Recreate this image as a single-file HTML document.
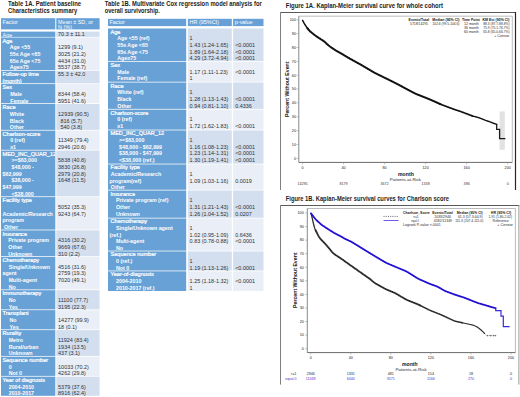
<!DOCTYPE html>
<html><head><meta charset="utf-8"><title>Tables and Kaplan-Meier figures</title>
<style>
html,body{margin:0;padding:0;background:#fff;width:520px;height:397px;overflow:hidden}
svg{display:block}
text{font-family:"Liberation Sans", sans-serif}
</style></head><body>
<svg width="520" height="397" viewBox="0 0 520 397" font-family='"Liberation Sans", sans-serif'>
<rect width="520" height="397" fill="#fff"/>
<text x="8.10" y="5.80" font-size="6.4" fill="#1c1c1c" font-weight="bold" textLength="73.00" lengthAdjust="spacingAndGlyphs">Table 1A. Patient baseline</text>
<text x="8.10" y="13.00" font-size="6.4" fill="#1c1c1c" font-weight="bold" textLength="69.00" lengthAdjust="spacingAndGlyphs">Characteristics summary</text>
<text x="104.80" y="5.80" font-size="6.4" fill="#1c1c1c" font-weight="bold" textLength="157.00" lengthAdjust="spacingAndGlyphs">Table 1B. Multivariate Cox regression model analysis for</text>
<text x="104.80" y="13.00" font-size="6.4" fill="#1c1c1c" font-weight="bold" textLength="55.00" lengthAdjust="spacingAndGlyphs">overall survivorship.</text>
<rect x="1.00" y="18.20" width="54.30" height="11.20" fill="#66a0d6"/>
<rect x="56.30" y="18.20" width="43.30" height="11.20" fill="#66a0d6"/>
<text x="2.50" y="23.70" font-size="5.45" fill="#fff">Factor</text>
<text x="58.10" y="23.60" font-size="5.45" fill="#fff">Mean ± SD, or</text>
<text x="58.10" y="29.30" font-size="5.45" fill="#fff">N (%)</text>
<rect x="1.00" y="31.60" width="54.30" height="5.30" fill="#68a1d5"/>
<rect x="56.30" y="31.60" width="43.30" height="5.30" fill="#d3dfef"/>
<clipPath id="cA0"><rect x="1" y="31.6" width="54.3" height="5.3"/></clipPath>
<text x="2.50" y="36.50" font-size="5.45" fill="#fff" clip-path="url(#cA0)">Age</text>
<text x="58.10" y="35.90" font-size="5.45" fill="#303030">70.3 ± 11.1</text>
<rect x="1.00" y="37.50" width="54.30" height="32.50" fill="#68a1d5"/>
<rect x="56.30" y="37.50" width="43.30" height="32.50" fill="#eaeff7"/>
<clipPath id="cA1"><rect x="1.0" y="37.50" width="54.30" height="32.50"/></clipPath>
<text x="2.50" y="42.70" font-size="5.58" fill="#fff" clip-path="url(#cA1)" stroke="#fff" stroke-width="0.22">Age</text>
<text x="9.80" y="49.35" font-size="5.3" fill="#fff" font-weight="bold" clip-path="url(#cA1)">Age &lt;55</text>
<text x="58.10" y="49.35" font-size="5.45" fill="#303030">1299 (9.1)</text>
<text x="9.80" y="56.00" font-size="5.3" fill="#fff" font-weight="bold" clip-path="url(#cA1)">55≤ Age &lt;65</text>
<text x="58.10" y="56.00" font-size="5.45" fill="#303030">3025 (21.2)</text>
<text x="9.80" y="62.65" font-size="5.3" fill="#fff" font-weight="bold" clip-path="url(#cA1)">65≤ Age &lt;75</text>
<text x="58.10" y="62.65" font-size="5.45" fill="#303030">4434 (31.0)</text>
<text x="9.80" y="69.30" font-size="5.3" fill="#fff" font-weight="bold" clip-path="url(#cA1)">Age≥75</text>
<text x="58.10" y="69.30" font-size="5.45" fill="#303030">5537 (38.7)</text>
<rect x="1.00" y="70.75" width="54.30" height="12.55" fill="#68a1d5"/>
<rect x="56.30" y="70.75" width="43.30" height="12.55" fill="#d3dfef"/>
<clipPath id="cA2"><rect x="1.0" y="70.75" width="54.30" height="12.55"/></clipPath>
<text x="2.50" y="75.95" font-size="5.58" fill="#fff" clip-path="url(#cA2)" stroke="#fff" stroke-width="0.22">Follow-up time</text>
<text x="58.10" y="75.95" font-size="5.45" fill="#303030">55.3 ± 42.0</text>
<text x="2.50" y="82.60" font-size="5.58" fill="#fff" clip-path="url(#cA2)" stroke="#fff" stroke-width="0.22">(month)</text>
<rect x="1.00" y="84.05" width="54.30" height="19.20" fill="#68a1d5"/>
<rect x="56.30" y="84.05" width="43.30" height="19.20" fill="#eaeff7"/>
<clipPath id="cA3"><rect x="1.0" y="84.05" width="54.30" height="19.20"/></clipPath>
<text x="2.50" y="89.25" font-size="5.58" fill="#fff" clip-path="url(#cA3)" stroke="#fff" stroke-width="0.22">Sex</text>
<text x="10.20" y="95.90" font-size="5.3" fill="#fff" font-weight="bold" clip-path="url(#cA3)">Male</text>
<text x="58.10" y="95.90" font-size="5.45" fill="#303030">8344 (58.4)</text>
<text x="10.20" y="102.55" font-size="5.3" fill="#fff" font-weight="bold" clip-path="url(#cA3)">Female</text>
<text x="58.10" y="102.55" font-size="5.45" fill="#303030">5951 (41.6)</text>
<rect x="1.00" y="104.00" width="54.30" height="25.85" fill="#68a1d5"/>
<rect x="56.30" y="104.00" width="43.30" height="25.85" fill="#d3dfef"/>
<clipPath id="cA4"><rect x="1.0" y="104.00" width="54.30" height="25.85"/></clipPath>
<text x="2.50" y="109.20" font-size="5.58" fill="#fff" clip-path="url(#cA4)" stroke="#fff" stroke-width="0.22">Race</text>
<text x="9.80" y="115.85" font-size="5.3" fill="#fff" font-weight="bold" clip-path="url(#cA4)">White</text>
<text x="58.10" y="115.85" font-size="5.45" fill="#303030">12939 (90.5)</text>
<text x="9.80" y="122.50" font-size="5.3" fill="#fff" font-weight="bold" clip-path="url(#cA4)">Black</text>
<text x="60.40" y="122.50" font-size="5.45" fill="#303030">816 (5.7)</text>
<text x="9.80" y="129.15" font-size="5.3" fill="#fff" font-weight="bold" clip-path="url(#cA4)">Other</text>
<text x="60.40" y="129.15" font-size="5.45" fill="#303030">540 (3.8)</text>
<rect x="1.00" y="130.60" width="54.30" height="19.20" fill="#68a1d5"/>
<rect x="56.30" y="130.60" width="43.30" height="19.20" fill="#eaeff7"/>
<clipPath id="cA5"><rect x="1.0" y="130.60" width="54.30" height="19.20"/></clipPath>
<text x="2.50" y="135.80" font-size="5.58" fill="#fff" clip-path="url(#cA5)" stroke="#fff" stroke-width="0.22">Charlson-score</text>
<text x="10.20" y="142.45" font-size="5.3" fill="#fff" font-weight="bold" clip-path="url(#cA5)">0 (ref)</text>
<text x="58.10" y="142.45" font-size="5.45" fill="#303030">11349 (79.4)</text>
<text x="10.20" y="149.10" font-size="5.3" fill="#fff" font-weight="bold" clip-path="url(#cA5)">≥1</text>
<text x="58.10" y="149.10" font-size="5.45" fill="#303030">2946 (20.6)</text>
<rect x="1.00" y="150.55" width="54.30" height="45.80" fill="#68a1d5"/>
<rect x="56.30" y="150.55" width="43.30" height="45.80" fill="#d3dfef"/>
<clipPath id="cA6"><rect x="1.0" y="150.55" width="54.30" height="45.80"/></clipPath>
<text x="2.50" y="155.75" font-size="5.58" fill="#fff" clip-path="url(#cA6)" stroke="#fff" stroke-width="0.22">MED_INC_QUAR_12</text>
<text x="11.50" y="162.40" font-size="5.3" fill="#fff" font-weight="bold" clip-path="url(#cA6)">&gt;=$63,000</text>
<text x="58.10" y="162.40" font-size="5.45" fill="#303030">5838 (40.8)</text>
<text x="11.50" y="169.05" font-size="5.3" fill="#fff" font-weight="bold" clip-path="url(#cA6)">$48,000 -</text>
<text x="58.10" y="169.05" font-size="5.45" fill="#303030">3830 (26.8)</text>
<text x="2.50" y="175.70" font-size="5.3" fill="#fff" font-weight="bold" clip-path="url(#cA6)">$62,999</text>
<text x="58.10" y="175.70" font-size="5.45" fill="#303030">2979 (20.8)</text>
<text x="11.50" y="182.35" font-size="5.3" fill="#fff" font-weight="bold" clip-path="url(#cA6)">$38,000 -</text>
<text x="58.10" y="182.35" font-size="5.45" fill="#303030">1648 (11.5)</text>
<text x="2.50" y="189.00" font-size="5.3" fill="#fff" font-weight="bold" clip-path="url(#cA6)">$47,999</text>
<text x="11.50" y="195.65" font-size="5.3" fill="#fff" font-weight="bold" clip-path="url(#cA6)">&lt;$38,000</text>
<rect x="1.00" y="197.10" width="54.30" height="32.50" fill="#68a1d5"/>
<rect x="56.30" y="197.10" width="43.30" height="32.50" fill="#eaeff7"/>
<clipPath id="cA7"><rect x="1.0" y="197.10" width="54.30" height="32.50"/></clipPath>
<text x="2.50" y="202.30" font-size="5.58" fill="#fff" clip-path="url(#cA7)" stroke="#fff" stroke-width="0.22">Facility type</text>
<text x="58.10" y="208.95" font-size="5.45" fill="#303030">5052 (35.3)</text>
<text x="2.50" y="215.60" font-size="5.3" fill="#fff" font-weight="bold" clip-path="url(#cA7)">Academic/Research</text>
<text x="58.10" y="215.60" font-size="5.45" fill="#303030">9243 (64.7)</text>
<text x="2.50" y="222.25" font-size="5.3" fill="#fff" font-weight="bold" clip-path="url(#cA7)">program</text>
<text x="4.00" y="228.90" font-size="5.3" fill="#fff" font-weight="bold" clip-path="url(#cA7)">Other</text>
<rect x="1.00" y="230.35" width="54.30" height="25.85" fill="#68a1d5"/>
<rect x="56.30" y="230.35" width="43.30" height="25.85" fill="#d3dfef"/>
<clipPath id="cA8"><rect x="1.0" y="230.35" width="54.30" height="25.85"/></clipPath>
<text x="2.50" y="235.55" font-size="5.58" fill="#fff" clip-path="url(#cA8)" stroke="#fff" stroke-width="0.22">Insurance</text>
<text x="8.30" y="242.20" font-size="5.3" fill="#fff" font-weight="bold" clip-path="url(#cA8)">Private program</text>
<text x="58.10" y="242.20" font-size="5.45" fill="#303030">4316 (30.2)</text>
<text x="8.30" y="248.85" font-size="5.3" fill="#fff" font-weight="bold" clip-path="url(#cA8)">Other</text>
<text x="58.10" y="248.85" font-size="5.45" fill="#303030">9669 (67.6)</text>
<text x="8.30" y="255.50" font-size="5.3" fill="#fff" font-weight="bold" clip-path="url(#cA8)">Unknown</text>
<text x="58.10" y="255.50" font-size="5.45" fill="#303030">310 (2.2)</text>
<rect x="1.00" y="256.95" width="54.30" height="32.50" fill="#68a1d5"/>
<rect x="56.30" y="256.95" width="43.30" height="32.50" fill="#eaeff7"/>
<clipPath id="cA9"><rect x="1.0" y="256.95" width="54.30" height="32.50"/></clipPath>
<text x="2.50" y="262.15" font-size="5.58" fill="#fff" clip-path="url(#cA9)" stroke="#fff" stroke-width="0.22">Chemotherapy</text>
<text x="8.70" y="268.80" font-size="5.3" fill="#fff" font-weight="bold" clip-path="url(#cA9)">Single/Unknown</text>
<text x="58.10" y="268.80" font-size="5.45" fill="#303030">4516 (31.6)</text>
<text x="2.50" y="275.45" font-size="5.3" fill="#fff" font-weight="bold" clip-path="url(#cA9)">agent</text>
<text x="58.10" y="275.45" font-size="5.45" fill="#303030">2759 (19.3)</text>
<text x="8.70" y="282.10" font-size="5.3" fill="#fff" font-weight="bold" clip-path="url(#cA9)">Multi-agent</text>
<text x="58.10" y="282.10" font-size="5.45" fill="#303030">7020 (49.1)</text>
<text x="8.70" y="288.75" font-size="5.3" fill="#fff" font-weight="bold" clip-path="url(#cA9)">No</text>
<rect x="1.00" y="290.20" width="54.30" height="19.20" fill="#68a1d5"/>
<rect x="56.30" y="290.20" width="43.30" height="19.20" fill="#d3dfef"/>
<clipPath id="cA10"><rect x="1.0" y="290.20" width="54.30" height="19.20"/></clipPath>
<text x="2.50" y="295.40" font-size="5.58" fill="#fff" clip-path="url(#cA10)" stroke="#fff" stroke-width="0.22">Immunotherapy</text>
<text x="8.70" y="302.05" font-size="5.3" fill="#fff" font-weight="bold" clip-path="url(#cA10)">No</text>
<text x="58.10" y="302.05" font-size="5.45" fill="#303030">11100 (77.7)</text>
<text x="8.70" y="308.70" font-size="5.3" fill="#fff" font-weight="bold" clip-path="url(#cA10)">Yes</text>
<text x="58.10" y="308.70" font-size="5.45" fill="#303030">3195 (22.3)</text>
<rect x="1.00" y="310.15" width="54.30" height="19.20" fill="#68a1d5"/>
<rect x="56.30" y="310.15" width="43.30" height="19.20" fill="#eaeff7"/>
<clipPath id="cA11"><rect x="1.0" y="310.15" width="54.30" height="19.20"/></clipPath>
<text x="2.50" y="315.35" font-size="5.58" fill="#fff" clip-path="url(#cA11)" stroke="#fff" stroke-width="0.22">Transplant</text>
<text x="9.50" y="322.00" font-size="5.3" fill="#fff" font-weight="bold" clip-path="url(#cA11)">No</text>
<text x="58.10" y="322.00" font-size="5.45" fill="#303030">14277 (99.9)</text>
<text x="9.50" y="328.65" font-size="5.3" fill="#fff" font-weight="bold" clip-path="url(#cA11)">Yes</text>
<text x="58.10" y="328.65" font-size="5.45" fill="#303030">18 (0.1)</text>
<rect x="1.00" y="330.10" width="54.30" height="25.85" fill="#68a1d5"/>
<rect x="56.30" y="330.10" width="43.30" height="25.85" fill="#d3dfef"/>
<clipPath id="cA12"><rect x="1.0" y="330.10" width="54.30" height="25.85"/></clipPath>
<text x="2.50" y="335.30" font-size="5.58" fill="#fff" clip-path="url(#cA12)" stroke="#fff" stroke-width="0.22">Rurality</text>
<text x="8.70" y="341.95" font-size="5.3" fill="#fff" font-weight="bold" clip-path="url(#cA12)">Metro</text>
<text x="58.10" y="341.95" font-size="5.45" fill="#303030">11924 (83.4)</text>
<text x="8.70" y="348.60" font-size="5.3" fill="#fff" font-weight="bold" clip-path="url(#cA12)">Rural/urban</text>
<text x="58.10" y="348.60" font-size="5.45" fill="#303030">1934 (13.5)</text>
<text x="8.70" y="355.25" font-size="5.3" fill="#fff" font-weight="bold" clip-path="url(#cA12)">Unknown</text>
<text x="58.10" y="355.25" font-size="5.45" fill="#303030">437 (3.1)</text>
<rect x="1.00" y="356.70" width="54.30" height="19.20" fill="#68a1d5"/>
<rect x="56.30" y="356.70" width="43.30" height="19.20" fill="#eaeff7"/>
<clipPath id="cA13"><rect x="1.0" y="356.70" width="54.30" height="19.20"/></clipPath>
<text x="2.50" y="361.90" font-size="5.58" fill="#fff" clip-path="url(#cA13)" stroke="#fff" stroke-width="0.22">Sequence number</text>
<text x="8.70" y="368.55" font-size="5.3" fill="#fff" font-weight="bold" clip-path="url(#cA13)">0</text>
<text x="58.10" y="368.55" font-size="5.45" fill="#303030">10033 (70.2)</text>
<text x="8.70" y="375.20" font-size="5.3" fill="#fff" font-weight="bold" clip-path="url(#cA13)">Not 0</text>
<text x="58.10" y="375.20" font-size="5.45" fill="#303030">4262 (29.8)</text>
<rect x="1.00" y="376.65" width="54.30" height="19.15" fill="#68a1d5"/>
<rect x="56.30" y="376.65" width="43.30" height="19.15" fill="#d3dfef"/>
<clipPath id="cA14"><rect x="1.0" y="376.65" width="54.30" height="19.15"/></clipPath>
<text x="2.50" y="381.85" font-size="5.58" fill="#fff" clip-path="url(#cA14)" stroke="#fff" stroke-width="0.22">Year of diagnosis</text>
<text x="8.70" y="388.50" font-size="5.3" fill="#fff" font-weight="bold" clip-path="url(#cA14)">2004-2010</text>
<text x="58.10" y="388.50" font-size="5.45" fill="#303030">5379 (37.6)</text>
<text x="8.70" y="395.15" font-size="5.3" fill="#fff" font-weight="bold" clip-path="url(#cA14)">2010-2017</text>
<text x="58.10" y="395.15" font-size="5.45" fill="#303030">8916 (62.4)</text>
<rect x="108.00" y="18.80" width="78.20" height="7.30" fill="#66a0d6"/>
<rect x="187.90" y="18.80" width="43.90" height="7.30" fill="#66a0d6"/>
<rect x="233.10" y="18.80" width="30.40" height="7.30" fill="#66a0d6"/>
<text x="109.50" y="23.70" font-size="5.45" fill="#fff">Factor</text>
<text x="189.60" y="23.70" font-size="5.45" fill="#fff">HR (95%CI)</text>
<text x="234.80" y="23.70" font-size="5.45" fill="#fff">p-value</text>
<rect x="108.00" y="28.50" width="78.20" height="32.65" fill="#68a1d5"/>
<rect x="187.90" y="28.50" width="43.90" height="32.65" fill="#d3dfef"/>
<rect x="233.10" y="28.50" width="30.40" height="32.65" fill="#d3dfef"/>
<clipPath id="cB0"><rect x="108.0" y="28.50" width="78.20" height="32.65"/></clipPath>
<text x="110.50" y="33.50" font-size="5.58" fill="#fff" clip-path="url(#cB0)" stroke="#fff" stroke-width="0.22">Age</text>
<text x="117.30" y="40.18" font-size="5.3" fill="#fff" font-weight="bold" clip-path="url(#cB0)">Age &lt;55 (ref)</text>
<text x="189.60" y="40.18" font-size="5.45" fill="#303030">1</text>
<text x="117.30" y="46.86" font-size="5.3" fill="#fff" font-weight="bold" clip-path="url(#cB0)">55≤ Age &lt;65</text>
<text x="189.60" y="46.86" font-size="5.45" fill="#303030">1.43 (1.24-1.65)</text>
<text x="235.20" y="46.86" font-size="5.45" fill="#303030">&lt;0.0001</text>
<text x="117.30" y="53.54" font-size="5.3" fill="#fff" font-weight="bold" clip-path="url(#cB0)">65≤ Age &lt;75</text>
<text x="189.60" y="53.54" font-size="5.45" fill="#303030">1.89 (1.64-2.18)</text>
<text x="235.20" y="53.54" font-size="5.45" fill="#303030">&lt;0.0001</text>
<text x="117.30" y="60.22" font-size="5.3" fill="#fff" font-weight="bold" clip-path="url(#cB0)">Age≥75</text>
<text x="189.60" y="60.22" font-size="5.45" fill="#303030">4.29 (3.72-4.94)</text>
<text x="235.20" y="60.22" font-size="5.45" fill="#303030">&lt;0.0001</text>
<rect x="108.00" y="61.90" width="78.20" height="19.85" fill="#68a1d5"/>
<rect x="187.90" y="61.90" width="43.90" height="19.85" fill="#eaeff7"/>
<rect x="233.10" y="61.90" width="30.40" height="19.85" fill="#eaeff7"/>
<clipPath id="cB1"><rect x="108.0" y="61.90" width="78.20" height="19.85"/></clipPath>
<text x="110.50" y="66.90" font-size="5.58" fill="#fff" clip-path="url(#cB1)" stroke="#fff" stroke-width="0.22">Sex</text>
<text x="117.30" y="73.58" font-size="5.3" fill="#fff" font-weight="bold" clip-path="url(#cB1)">Male</text>
<text x="189.60" y="73.58" font-size="5.45" fill="#303030">1.17 (1.11-1.23)</text>
<text x="235.20" y="73.58" font-size="5.45" fill="#303030">&lt;0.0001</text>
<text x="117.30" y="80.26" font-size="5.3" fill="#fff" font-weight="bold" clip-path="url(#cB1)">Female (ref)</text>
<text x="189.60" y="80.26" font-size="5.45" fill="#303030">1</text>
<rect x="108.00" y="82.50" width="78.20" height="26.35" fill="#68a1d5"/>
<rect x="187.90" y="82.50" width="43.90" height="26.35" fill="#d3dfef"/>
<rect x="233.10" y="82.50" width="30.40" height="26.35" fill="#d3dfef"/>
<clipPath id="cB2"><rect x="108.0" y="82.50" width="78.20" height="26.35"/></clipPath>
<text x="110.50" y="87.50" font-size="5.58" fill="#fff" clip-path="url(#cB2)" stroke="#fff" stroke-width="0.22">Race</text>
<text x="117.30" y="94.18" font-size="5.3" fill="#fff" font-weight="bold" clip-path="url(#cB2)">White (ref)</text>
<text x="189.60" y="94.18" font-size="5.45" fill="#303030">1</text>
<text x="117.30" y="100.86" font-size="5.3" fill="#fff" font-weight="bold" clip-path="url(#cB2)">Black</text>
<text x="189.60" y="100.86" font-size="5.45" fill="#303030">1.28 (1.13-1.43)</text>
<text x="235.20" y="100.86" font-size="5.45" fill="#303030">&lt;0.0001</text>
<text x="117.30" y="107.54" font-size="5.3" fill="#fff" font-weight="bold" clip-path="url(#cB2)">Other</text>
<text x="189.60" y="107.54" font-size="5.45" fill="#303030">0.94 (0.81-1.10)</text>
<text x="235.20" y="107.54" font-size="5.45" fill="#303030">0.4336</text>
<rect x="108.00" y="109.60" width="78.20" height="20.05" fill="#68a1d5"/>
<rect x="187.90" y="109.60" width="43.90" height="20.05" fill="#eaeff7"/>
<rect x="233.10" y="109.60" width="30.40" height="20.05" fill="#eaeff7"/>
<clipPath id="cB3"><rect x="108.0" y="109.60" width="78.20" height="20.05"/></clipPath>
<text x="110.50" y="114.60" font-size="5.58" fill="#fff" clip-path="url(#cB3)" stroke="#fff" stroke-width="0.22">Charlson-score</text>
<text x="117.30" y="121.28" font-size="5.3" fill="#fff" font-weight="bold" clip-path="url(#cB3)">0 (ref)</text>
<text x="189.60" y="121.28" font-size="5.45" fill="#303030">1</text>
<text x="117.30" y="127.96" font-size="5.3" fill="#fff" font-weight="bold" clip-path="url(#cB3)">≥1</text>
<text x="189.60" y="127.96" font-size="5.45" fill="#303030">1.72 (1.62-1.83)</text>
<text x="235.20" y="127.96" font-size="5.45" fill="#303030">&lt;0.0001</text>
<rect x="108.00" y="130.40" width="78.20" height="33.25" fill="#68a1d5"/>
<rect x="187.90" y="130.40" width="43.90" height="33.25" fill="#d3dfef"/>
<rect x="233.10" y="130.40" width="30.40" height="33.25" fill="#d3dfef"/>
<clipPath id="cB4"><rect x="108.0" y="130.40" width="78.20" height="33.25"/></clipPath>
<text x="110.50" y="135.20" font-size="5.58" fill="#fff" clip-path="url(#cB4)" stroke="#fff" stroke-width="0.22">MED_INC_QUAR_12</text>
<text x="119.00" y="141.88" font-size="5.3" fill="#fff" font-weight="bold" clip-path="url(#cB4)">&gt;=$63,000</text>
<text x="189.60" y="141.88" font-size="5.45" fill="#303030">1</text>
<text x="119.00" y="148.56" font-size="5.3" fill="#fff" font-weight="bold" clip-path="url(#cB4)">$48,000 - $62,999</text>
<text x="189.60" y="148.56" font-size="5.45" fill="#303030">1.16 (1.08-1.23)</text>
<text x="235.20" y="148.56" font-size="5.45" fill="#303030">&lt;0.0001</text>
<text x="119.00" y="155.24" font-size="5.3" fill="#fff" font-weight="bold" clip-path="url(#cB4)">$38,000 - $47,999</text>
<text x="189.60" y="155.24" font-size="5.45" fill="#303030">1.23 (1.14-1.31)</text>
<text x="235.20" y="155.24" font-size="5.45" fill="#303030">&lt;0.0001</text>
<text x="119.00" y="161.92" font-size="5.3" fill="#fff" font-weight="bold" clip-path="url(#cB4)">&lt;$38,000 (ref.)</text>
<text x="189.60" y="161.92" font-size="5.45" fill="#303030">1.30 (1.19-1.41)</text>
<text x="235.20" y="161.92" font-size="5.45" fill="#303030">&lt;0.0001</text>
<rect x="108.00" y="164.40" width="78.20" height="25.35" fill="#68a1d5"/>
<rect x="187.90" y="164.40" width="43.90" height="25.35" fill="#eaeff7"/>
<rect x="233.10" y="164.40" width="30.40" height="25.35" fill="#eaeff7"/>
<clipPath id="cB5"><rect x="108.0" y="164.40" width="78.20" height="25.35"/></clipPath>
<text x="110.50" y="169.20" font-size="5.58" fill="#fff" clip-path="url(#cB5)" stroke="#fff" stroke-width="0.22">Facility type</text>
<text x="110.80" y="175.88" font-size="5.3" fill="#fff" font-weight="bold" clip-path="url(#cB5)">Academic/Research</text>
<text x="189.60" y="175.88" font-size="5.45" fill="#303030">1</text>
<text x="109.50" y="182.56" font-size="5.3" fill="#fff" font-weight="bold" clip-path="url(#cB5)">program(ref)</text>
<text x="189.60" y="182.56" font-size="5.45" fill="#303030">1.09 (1.03-1.16)</text>
<text x="235.20" y="182.56" font-size="5.45" fill="#303030">0.0019</text>
<text x="110.80" y="189.24" font-size="5.3" fill="#fff" font-weight="bold" clip-path="url(#cB5)">Other</text>
<rect x="108.00" y="190.50" width="78.20" height="27.25" fill="#68a1d5"/>
<rect x="187.90" y="190.50" width="43.90" height="27.25" fill="#d3dfef"/>
<rect x="233.10" y="190.50" width="30.40" height="27.25" fill="#d3dfef"/>
<clipPath id="cB6"><rect x="108.0" y="190.50" width="78.20" height="27.25"/></clipPath>
<text x="110.50" y="195.50" font-size="5.58" fill="#fff" clip-path="url(#cB6)" stroke="#fff" stroke-width="0.22">Insurance</text>
<text x="116.00" y="202.18" font-size="5.3" fill="#fff" font-weight="bold" clip-path="url(#cB6)">Private program (ref)</text>
<text x="189.60" y="202.18" font-size="5.45" fill="#303030">1</text>
<text x="116.00" y="208.86" font-size="5.3" fill="#fff" font-weight="bold" clip-path="url(#cB6)">Other</text>
<text x="189.60" y="208.86" font-size="5.45" fill="#303030">1.31 (1.21-1.43)</text>
<text x="235.20" y="208.86" font-size="5.45" fill="#303030">&lt;0.0001</text>
<text x="116.00" y="215.54" font-size="5.3" fill="#fff" font-weight="bold" clip-path="url(#cB6)">Unknown</text>
<text x="189.60" y="215.54" font-size="5.45" fill="#303030">1.26 (1.04-1.52)</text>
<text x="235.20" y="215.54" font-size="5.45" fill="#303030">0.0207</text>
<rect x="108.00" y="218.50" width="78.20" height="32.15" fill="#68a1d5"/>
<rect x="187.90" y="218.50" width="43.90" height="32.15" fill="#eaeff7"/>
<rect x="233.10" y="218.50" width="30.40" height="32.15" fill="#eaeff7"/>
<clipPath id="cB7"><rect x="108.0" y="218.50" width="78.20" height="32.15"/></clipPath>
<text x="110.50" y="223.30" font-size="5.58" fill="#fff" clip-path="url(#cB7)" stroke="#fff" stroke-width="0.22">Chemotherapy</text>
<text x="116.00" y="229.98" font-size="5.3" fill="#fff" font-weight="bold" clip-path="url(#cB7)">Single/Unknown agent</text>
<text x="189.60" y="229.98" font-size="5.45" fill="#303030">1</text>
<text x="109.50" y="236.66" font-size="5.3" fill="#fff" font-weight="bold" clip-path="url(#cB7)">(ref.)</text>
<text x="189.60" y="236.66" font-size="5.45" fill="#303030">1.02 (0.95-1.09)</text>
<text x="235.20" y="236.66" font-size="5.45" fill="#303030">0.6436</text>
<text x="116.00" y="243.34" font-size="5.3" fill="#fff" font-weight="bold" clip-path="url(#cB7)">Multi-agent</text>
<text x="189.60" y="243.34" font-size="5.45" fill="#303030">0.83 (0.78-0.88)</text>
<text x="235.20" y="243.34" font-size="5.45" fill="#303030">&lt;0.0001</text>
<text x="116.00" y="250.02" font-size="5.3" fill="#fff" font-weight="bold" clip-path="url(#cB7)">No</text>
<rect x="108.00" y="251.40" width="78.20" height="19.15" fill="#68a1d5"/>
<rect x="187.90" y="251.40" width="43.90" height="19.15" fill="#d3dfef"/>
<rect x="233.10" y="251.40" width="30.40" height="19.15" fill="#d3dfef"/>
<clipPath id="cB8"><rect x="108.0" y="251.40" width="78.20" height="19.15"/></clipPath>
<text x="110.50" y="256.40" font-size="5.58" fill="#fff" clip-path="url(#cB8)" stroke="#fff" stroke-width="0.22">Sequence number</text>
<text x="116.00" y="263.08" font-size="5.3" fill="#fff" font-weight="bold" clip-path="url(#cB8)">0 (ref.)</text>
<text x="189.60" y="263.08" font-size="5.45" fill="#303030">1</text>
<text x="116.00" y="269.76" font-size="5.3" fill="#fff" font-weight="bold" clip-path="url(#cB8)">Not 0</text>
<text x="189.60" y="269.76" font-size="5.45" fill="#303030">1.19 (1.13-1.26)</text>
<text x="235.20" y="269.76" font-size="5.45" fill="#303030">&lt;0.0001</text>
<rect x="108.00" y="271.30" width="78.20" height="19.70" fill="#68a1d5"/>
<rect x="187.90" y="271.30" width="43.90" height="19.70" fill="#eaeff7"/>
<rect x="233.10" y="271.30" width="30.40" height="19.70" fill="#eaeff7"/>
<clipPath id="cB9"><rect x="108.0" y="271.30" width="78.20" height="19.70"/></clipPath>
<text x="110.50" y="276.30" font-size="5.58" fill="#fff" clip-path="url(#cB9)" stroke="#fff" stroke-width="0.22">Year-of-diagnosis</text>
<text x="116.00" y="282.98" font-size="5.3" fill="#fff" font-weight="bold" clip-path="url(#cB9)">2004-2010</text>
<text x="189.60" y="282.98" font-size="5.45" fill="#303030">1.25 (1.18-1.32)</text>
<text x="235.20" y="282.98" font-size="5.45" fill="#303030">&lt;0.0001</text>
<text x="116.00" y="289.66" font-size="5.3" fill="#fff" font-weight="bold" clip-path="url(#cB9)">2010-2017 (ref.)</text>
<text x="189.60" y="289.66" font-size="5.45" fill="#303030">1</text>
<text x="285.80" y="7.60" font-size="6.4" fill="#1c1c1c" font-weight="bold" textLength="157.20" lengthAdjust="spacingAndGlyphs">Figure 1A. Kaplan-Meier survival curve for whole cohort</text>
<line x1="280.5" y1="12.5" x2="516" y2="12.5" stroke="#5a5a5a" stroke-width="1"/>
<line x1="280.5" y1="12" x2="280.5" y2="190" stroke="#808080" stroke-width="1"/>
<line x1="515.5" y1="12" x2="515.5" y2="190" stroke="#262626" stroke-width="1.2"/>
<line x1="298.8" y1="16.2" x2="512.3" y2="16.2" stroke="#b4b4b4" stroke-width="0.9"/>
<line x1="512.3" y1="16.2" x2="512.3" y2="162.4" stroke="#b4b4b4" stroke-width="0.9"/>
<line x1="298.8" y1="16.2" x2="298.8" y2="162.4" stroke="#7a7a7a" stroke-width="0.9"/>
<line x1="298.8" y1="162.4" x2="512.3" y2="162.4" stroke="#6a6a6a" stroke-width="1"/>
<line x1="296.6" y1="158.30" x2="298.8" y2="158.30" stroke="#888" stroke-width="0.5"/>
<text x="296.00" y="159.65" font-size="3.75" fill="#222" text-anchor="end">0</text>
<line x1="296.6" y1="144.45" x2="298.8" y2="144.45" stroke="#888" stroke-width="0.5"/>
<text x="296.00" y="145.80" font-size="3.75" fill="#222" text-anchor="end">10</text>
<line x1="296.6" y1="130.60" x2="298.8" y2="130.60" stroke="#888" stroke-width="0.5"/>
<text x="296.00" y="131.95" font-size="3.75" fill="#222" text-anchor="end">20</text>
<line x1="296.6" y1="116.75" x2="298.8" y2="116.75" stroke="#888" stroke-width="0.5"/>
<text x="296.00" y="118.10" font-size="3.75" fill="#222" text-anchor="end">30</text>
<line x1="296.6" y1="102.90" x2="298.8" y2="102.90" stroke="#888" stroke-width="0.5"/>
<text x="296.00" y="104.25" font-size="3.75" fill="#222" text-anchor="end">40</text>
<line x1="296.6" y1="89.05" x2="298.8" y2="89.05" stroke="#888" stroke-width="0.5"/>
<text x="296.00" y="90.40" font-size="3.75" fill="#222" text-anchor="end">50</text>
<line x1="296.6" y1="75.20" x2="298.8" y2="75.20" stroke="#888" stroke-width="0.5"/>
<text x="296.00" y="76.55" font-size="3.75" fill="#222" text-anchor="end">60</text>
<line x1="296.6" y1="61.35" x2="298.8" y2="61.35" stroke="#888" stroke-width="0.5"/>
<text x="296.00" y="62.70" font-size="3.75" fill="#222" text-anchor="end">70</text>
<line x1="296.6" y1="47.50" x2="298.8" y2="47.50" stroke="#888" stroke-width="0.5"/>
<text x="296.00" y="48.85" font-size="3.75" fill="#222" text-anchor="end">80</text>
<line x1="296.6" y1="33.65" x2="298.8" y2="33.65" stroke="#888" stroke-width="0.5"/>
<text x="296.00" y="35.00" font-size="3.75" fill="#222" text-anchor="end">90</text>
<line x1="296.6" y1="19.80" x2="298.8" y2="19.80" stroke="#888" stroke-width="0.5"/>
<text x="296.00" y="21.15" font-size="3.75" fill="#222" text-anchor="end">100</text>
<line x1="302.50" y1="162.4" x2="302.50" y2="164.4" stroke="#888" stroke-width="0.5"/>
<text x="302.50" y="168.50" font-size="3.75" fill="#222" text-anchor="middle">0</text>
<line x1="343.54" y1="162.4" x2="343.54" y2="164.4" stroke="#888" stroke-width="0.5"/>
<text x="343.54" y="168.50" font-size="3.75" fill="#222" text-anchor="middle">40</text>
<line x1="384.58" y1="162.4" x2="384.58" y2="164.4" stroke="#888" stroke-width="0.5"/>
<text x="384.58" y="168.50" font-size="3.75" fill="#222" text-anchor="middle">80</text>
<line x1="425.62" y1="162.4" x2="425.62" y2="164.4" stroke="#888" stroke-width="0.5"/>
<text x="425.62" y="168.50" font-size="3.75" fill="#222" text-anchor="middle">120</text>
<line x1="466.66" y1="162.4" x2="466.66" y2="164.4" stroke="#888" stroke-width="0.5"/>
<text x="466.66" y="168.50" font-size="3.75" fill="#222" text-anchor="middle">160</text>
<line x1="507.70" y1="162.4" x2="507.70" y2="164.4" stroke="#888" stroke-width="0.5"/>
<text x="507.70" y="168.50" font-size="3.75" fill="#222" text-anchor="middle">200</text>
<rect x="499.60" y="111.40" width="5.20" height="38.40" fill="#e2e2e2"/>
<path d="M302.60,20.40 L302.79,20.75 L302.98,21.10 L303.17,21.45 L303.37,21.80 L303.56,22.16 L303.75,22.51 L303.95,22.85 L304.14,23.20 L304.34,23.55 L304.54,23.90 L304.75,24.24 L304.95,24.58 L305.16,24.92 L305.37,25.26 L305.58,25.60 L305.80,25.94 L306.02,26.27 L306.24,26.60 L306.47,26.93 L306.70,27.26 L306.93,27.58 L307.17,27.90 L307.41,28.22 L307.66,28.54 L307.90,28.85 L308.16,29.16 L308.41,29.47" fill="none" stroke="#111" stroke-width="1.5" stroke-linejoin="round" stroke-linecap="round"/>
<path d="M307.41,28.22 L307.66,28.54 L307.90,28.85 L308.16,29.16 L308.41,29.47 L308.67,29.77 L308.94,30.07 L309.21,30.36 L309.48,30.65 L309.76,30.93 L310.04,31.21 L310.33,31.49 L310.62,31.76 L310.92,32.03 L311.21,32.30 L311.51,32.56 L311.82,32.83 L312.12,33.09 L312.43,33.34 L312.74,33.59 L313.05,33.84 L313.36,34.09 L313.68,34.33 L314.00,34.58 L314.32,34.82 L314.64,35.06 L314.96,35.29 L315.28,35.53 L315.61,35.76 L315.93,35.99 L316.26,36.22 L316.59,36.45 L316.92,36.68 L317.25,36.90 L317.58,37.12 L317.92,37.34 L318.25,37.56 L318.58,37.78 L318.92,38.00 L319.26,38.22 L319.59,38.43 L319.93,38.65 L320.27,38.86 L320.60,39.08 L320.94,39.29 L321.28,39.51 L321.62,39.72 L321.95,39.94 L322.29,40.15 L322.62,40.37 L322.95,40.60 L323.28,40.83 L323.60,41.06 L323.92,41.30 L324.23,41.55 L324.54,41.80 L324.84,42.06 L325.14,42.32 L325.43,42.59 L325.73,42.86 L326.02,43.13 L326.31,43.41 L326.60,43.68 L326.89,43.95 L327.19,44.23 L327.48,44.49 L327.78,44.76 L328.08,45.02 L328.39,45.28 L328.69,45.53 L329.01,45.78 L329.32,46.02 L329.64,46.26 L329.96,46.50 L330.29,46.73 L330.61,46.97 L330.94,47.20 L331.27,47.43 L331.59,47.66 L331.92,47.88 L332.25,48.11 L332.58,48.34 L332.91,48.57 L333.24,48.80 L333.57,49.02 L333.90,49.24 L334.23,49.47 L334.57,49.68 L334.90,49.90 L335.24,50.11 L335.58,50.32 L335.93,50.52 L336.27,50.73 L336.62,50.93 L336.96,51.12 L337.31,51.32 L337.66,51.52 L338.01,51.71 L338.36,51.91 L338.71,52.10 L339.06,52.29 L339.41,52.49 L339.76,52.68 L340.11,52.88 L340.46,53.07 L340.80,53.27 L341.15,53.47 L341.50,53.67 L341.84,53.87 L342.19,54.07 L342.53,54.28 L342.87,54.48 L343.22,54.69 L343.56,54.90 L343.90,55.10 L344.24,55.31 L344.59,55.52 L344.93,55.73 L345.27,55.94 L345.61,56.14 L345.95,56.35 L346.30,56.56 L346.64,56.76 L346.98,56.97 L347.32,57.17 L347.67,57.38 L348.01,57.58 L348.36,57.78 L348.71,57.98 L349.06,58.17 L349.40,58.37 L349.75,58.57 L350.10,58.76 L350.45,58.96 L350.80,59.15 L351.15,59.34 L351.50,59.54 L351.85,59.73 L352.20,59.93 L352.55,60.12 L352.90,60.31 L353.25,60.51 L353.60,60.70 L353.95,60.89 L354.30,61.09 L354.65,61.28 L355.00,61.47 L355.35,61.66 L355.70,61.86 L356.06,62.05 L356.41,62.24 L356.76,62.43 L357.11,62.62 L357.46,62.81 L357.81,63.01 L358.16,63.20 L358.51,63.39 L358.86,63.58 L359.21,63.77 L359.56,63.97 L359.91,64.16 L360.26,64.36 L360.61,64.55 L360.96,64.75 L361.31,64.95 L361.65,65.15 L362.00,65.35 L362.34,65.55 L362.69,65.76 L363.03,65.96 L363.37,66.17 L363.72,66.37 L364.06,66.58 L364.40,66.78 L364.75,66.99 L365.09,67.19 L365.43,67.40 L365.78,67.61 L366.12,67.81 L366.46,68.02 L366.81,68.22 L367.15,68.43 L367.49,68.63 L367.84,68.83 L368.18,69.04 L368.53,69.24 L368.87,69.44 L369.22,69.65 L369.56,69.85 L369.91,70.05 L370.25,70.25 L370.60,70.46 L370.94,70.66 L371.29,70.86 L371.63,71.06 L371.98,71.26 L372.32,71.46 L372.67,71.66 L373.02,71.86 L373.36,72.06 L373.71,72.26 L374.06,72.45 L374.41,72.65 L374.76,72.83 L375.12,73.02 L375.47,73.21 L375.83,73.39 L376.18,73.57 L376.54,73.75 L376.90,73.93 L377.26,74.10 L377.62,74.28 L377.98,74.46 L378.33,74.63 L378.69,74.81 L379.05,74.99 L379.41,75.16 L379.77,75.34 L380.13,75.52 L380.49,75.69 L380.85,75.87 L381.21,76.05 L381.57,76.22 L381.92,76.40 L382.28,76.58 L382.64,76.75 L383.00,76.93 L383.36,77.10 L383.72,77.28 L384.08,77.46 L384.44,77.63 L384.80,77.81 L385.15,77.99 L385.51,78.16 L385.87,78.34 L386.23,78.52 L386.59,78.69 L386.95,78.87 L387.31,79.05 L387.67,79.23 L388.02,79.40 L388.38,79.58 L388.74,79.76 L389.10,79.94 L389.46,80.11 L389.82,80.29 L390.17,80.47 L390.53,80.65 L390.89,80.83 L391.25,81.00 L391.61,81.18 L391.97,81.36 L392.32,81.54 L392.68,81.71 L393.04,81.89 L393.40,82.07 L393.76,82.25 L394.12,82.42 L394.48,82.60 L394.83,82.78 L395.19,82.96 L395.55,83.14 L395.91,83.31 L396.26,83.49 L396.62,83.67 L396.98,83.86 L397.33,84.04 L397.69,84.22 L398.04,84.41 L398.40,84.59 L398.75,84.78 L399.10,84.97 L399.46,85.16 L399.81,85.35 L400.16,85.54 L400.51,85.73 L400.86,85.92 L401.21,86.12 L401.56,86.31 L401.91,86.50 L402.27,86.69 L402.62,86.88 L402.97,87.07 L403.32,87.26 L403.67,87.46 L404.02,87.65 L404.37,87.84 L404.72,88.03 L405.08,88.22 L405.43,88.41 L405.78,88.60 L406.13,88.79 L406.48,88.98 L406.84,89.17 L407.19,89.36 L407.54,89.55 L407.89,89.74 L408.25,89.92 L408.60,90.11 L408.95,90.30 L409.31,90.48 L409.66,90.67 L410.02,90.86 L410.37,91.05 L410.72,91.23 L411.08,91.42 L411.43,91.61 L411.78,91.79 L412.14,91.98 L412.49,92.17 L412.85,92.35 L413.20,92.54 L413.56,92.72 L413.91,92.90 L414.27,93.08 L414.63,93.25 L414.99,93.43 L415.35,93.59 L415.72,93.76 L416.08,93.92 L416.45,94.07 L416.82,94.23 L417.19,94.38 L417.56,94.53 L417.93,94.68 L418.30,94.83 L418.67,94.97 L419.05,95.12 L419.42,95.27 L419.79,95.42 L420.16,95.56 L420.53,95.71 L420.90,95.86 L421.28,96.01 L421.65,96.15 L422.02,96.30 L422.39,96.45 L422.76,96.59 L423.14,96.74 L423.51,96.89 L423.88,97.04 L424.25,97.18 L424.62,97.33 L425.00,97.48 L425.37,97.62 L425.74,97.77 L426.11,97.92 L426.48,98.07 L426.86,98.21 L427.23,98.36 L427.60,98.51 L427.97,98.66 L428.34,98.81 L428.71,98.96 L429.08,99.11 L429.45,99.27 L429.82,99.42 L430.19,99.58 L430.55,99.74 L430.92,99.90 L431.29,100.06 L431.65,100.22 L432.02,100.38 L432.38,100.55 L432.75,100.71 L433.11,100.87 L433.48,101.04 L433.84,101.20 L434.21,101.37 L434.57,101.53 L434.94,101.69 L435.30,101.86 L435.67,102.02 L436.03,102.18 L436.40,102.35 L436.76,102.51 L437.13,102.67 L437.49,102.84 L437.86,103.00 L438.22,103.16 L438.59,103.33 L438.95,103.49 L439.32,103.65 L439.68,103.81 L440.05,103.97 L440.42,104.13" fill="none" stroke="#111" stroke-width="2.0" stroke-linejoin="round" stroke-linecap="round"/>
<path d="M439.68,103.81 L440.05,103.97 L440.42,104.13 L440.79,104.29 L441.16,104.44 L441.53,104.59 L441.90,104.74 L442.27,104.89 L442.64,105.03 L443.01,105.18 L443.39,105.32 L443.76,105.46 L444.14,105.61 L444.51,105.75 L444.88,105.89 L445.26,106.03 L445.63,106.17 L446.01,106.31 L446.38,106.45 L446.75,106.59 L447.13,106.73 L447.50,106.88 L447.88,107.02 L448.25,107.16 L448.63,107.30 L449.00,107.44 L449.38,107.58 L449.75,107.72 L450.12,107.86 L450.50,108.00 L450.87,108.14 L451.25,108.29 L451.62,108.43 L452.00,108.57 L452.37,108.71 L452.74,108.85 L453.12,108.99 L453.49,109.13 L453.87,109.26 L454.25,109.40 L454.62,109.53 L455.00,109.67 L455.38,109.80 L455.76,109.93 L456.13,110.06 L456.51,110.18 L456.89,110.31 L457.27,110.43 L457.65,110.56 L458.03,110.68 L458.42,110.80 L458.80,110.93 L459.18,111.05 L459.56,111.18 L459.94,111.30 L460.32,111.43 L460.69,111.56 L461.07,111.68 L461.45,111.82 L461.83,111.95 L462.20,112.08 L462.58,112.22 L462.95,112.36 L463.33,112.50 L463.70,112.64 L464.08,112.78 L464.45,112.92 L464.83,113.06 L465.20,113.20 L465.57,113.35 L465.95,113.49 L466.32,113.63 L466.70,113.77 L467.07,113.91 L467.44,114.05 L467.82,114.20 L468.19,114.34 L468.57,114.48 L468.94,114.62 L469.31,114.76 L469.69,114.91 L470.06,115.05 L470.44,115.19 L470.81,115.33 L471.19,115.47 L471.56,115.60 L471.94,115.73 L472.32,115.86" fill="none" stroke="#111" stroke-width="1.7" stroke-linejoin="round" stroke-linecap="round"/>
<path d="M471.56,115.60 L471.94,115.73 L472.32,115.86 L472.70,115.99 L473.08,116.11 L473.46,116.23 L473.84,116.34 L474.23,116.45 L474.61,116.55 L475.00,116.66 L475.39,116.76 L475.77,116.86 L476.16,116.95 L476.55,117.05 L476.93,117.15 L477.32,117.26 L477.70,117.37 L478.09,117.48 L478.47,117.59 L478.85,117.72 L479.23,117.85 L479.60,117.98 L479.98,118.12 L480.35,118.26 L480.72,118.41 L481.09,118.55 L481.46,118.70 L481.83,118.86 L482.20,119.01 L482.57,119.16 L482.94,119.31 L483.31,119.46 L483.69,119.61 L484.06,119.75 L484.43,119.89 L484.81,120.04 L485.18,120.18 L485.56,120.31 L485.93,120.45 L486.31,120.58 L486.69,120.72 L487.06,120.85 L487.44,120.98 L487.82,121.11 L488.20,121.24 L488.57,121.38 L488.95,121.51 L489.33,121.65 L489.70,121.79 L490.07,121.93 L490.45,122.07 L490.82,122.22 L491.19,122.37 L491.56,122.52 L491.93,122.67 L492.30,122.82 L492.67,122.97 L493.04,123.12 L493.41,123.26 L493.79,123.40 L494.16,123.53 L494.54,123.66 L494.92,123.78 L495.30,123.89 L495.69,124.01 L496.07,124.12 L496.45,124.23 L496.70,124.30" fill="none" stroke="#111" stroke-width="1.4" stroke-linejoin="round" stroke-linecap="round"/>
<path d="M496.7,124.3 L496.7,129.4 L499.6,129.4 L499.6,138.7 L505.4,138.7" fill="none" stroke="#1a1a1a" stroke-width="1.3"/>
<text x="408.60" y="21.00" font-size="3.45" fill="#151515" font-weight="bold" textLength="20.60" lengthAdjust="spacingAndGlyphs">Events/Total</text>
<text x="410.00" y="24.90" font-size="3.3465000000000003" fill="#2a2a2a" textLength="18.00" lengthAdjust="spacingAndGlyphs">5718/14295</text>
<text x="432.30" y="21.00" font-size="3.45" fill="#151515" font-weight="bold" textLength="27.10" lengthAdjust="spacingAndGlyphs">Median (95% CI)</text>
<text x="432.50" y="24.90" font-size="3.3465000000000003" fill="#2a2a2a" textLength="26.90" lengthAdjust="spacingAndGlyphs">102.6 (99.5-104.6)</text>
<text x="461.90" y="21.00" font-size="3.45" fill="#151515" font-weight="bold" textLength="17.90" lengthAdjust="spacingAndGlyphs">Time Point</text>
<text x="482.50" y="21.00" font-size="3.45" fill="#151515" font-weight="bold" textLength="27.00" lengthAdjust="spacingAndGlyphs">KM Est (95% CI)</text>
<text x="464.00" y="24.90" font-size="3.3465000000000003" fill="#2a2a2a" textLength="14.70" lengthAdjust="spacingAndGlyphs">12 month</text>
<text x="483.30" y="24.90" font-size="3.3465000000000003" fill="#2a2a2a" textLength="26.20" lengthAdjust="spacingAndGlyphs">88.3 (87.7-88.8%)</text>
<text x="464.00" y="29.05" font-size="3.3465000000000003" fill="#2a2a2a" textLength="14.70" lengthAdjust="spacingAndGlyphs">36 month</text>
<text x="483.30" y="29.05" font-size="3.3465000000000003" fill="#2a2a2a" textLength="26.20" lengthAdjust="spacingAndGlyphs">75.9 (75.1-76.7%)</text>
<text x="464.00" y="33.20" font-size="3.3465000000000003" fill="#2a2a2a" textLength="14.70" lengthAdjust="spacingAndGlyphs">60 month</text>
<text x="483.30" y="33.20" font-size="3.3465000000000003" fill="#2a2a2a" textLength="26.20" lengthAdjust="spacingAndGlyphs">65.8 (65.0-66.7%)</text>
<text x="494.20" y="37.30" font-size="3.3465000000000003" fill="#2a2a2a" textLength="15.00" lengthAdjust="spacingAndGlyphs">+ Censor</text>
<text transform="translate(288.8,89.3) rotate(-90)" font-size="4.6" font-weight="bold" text-anchor="middle" fill="#111" textLength="55.6" lengthAdjust="spacingAndGlyphs">Percent Without Event</text>
<text x="398.00" y="176.00" font-size="4.6" fill="#111" font-weight="bold" textLength="15.80" lengthAdjust="spacingAndGlyphs">month</text>
<text x="389.80" y="180.60" font-size="4.1" fill="#2a2a2a" textLength="31.20" lengthAdjust="spacingAndGlyphs">Patients-at-Risk</text>
<text x="302.50" y="184.60" font-size="3.675" fill="#3a3a3a" text-anchor="middle">14295</text>
<text x="343.54" y="184.60" font-size="3.675" fill="#3a3a3a" text-anchor="middle">8179</text>
<text x="384.58" y="184.60" font-size="3.675" fill="#3a3a3a" text-anchor="middle">3672</text>
<text x="425.62" y="184.60" font-size="3.675" fill="#3a3a3a" text-anchor="middle">1338</text>
<text x="466.66" y="184.60" font-size="3.675" fill="#3a3a3a" text-anchor="middle">386</text>
<text x="507.70" y="184.60" font-size="3.675" fill="#3a3a3a" text-anchor="middle">0</text>
<text x="285.80" y="201.10" font-size="6.4" fill="#1c1c1c" font-weight="bold" textLength="163.10" lengthAdjust="spacingAndGlyphs">Figure 1B. Kaplan-Meier survival curves for Charlson score</text>
<line x1="280.4" y1="205.5" x2="519.4" y2="205.5" stroke="#5a5a5a" stroke-width="1"/>
<line x1="280.5" y1="205" x2="280.5" y2="384.6" stroke="#808080" stroke-width="1"/>
<line x1="518.9" y1="205" x2="518.9" y2="384.6" stroke="#9a9a9a" stroke-width="1"/>
<line x1="307.3" y1="208.5" x2="515.4" y2="208.5" stroke="#b4b4b4" stroke-width="0.9"/>
<line x1="515.4" y1="208.5" x2="515.4" y2="352.6" stroke="#b4b4b4" stroke-width="0.9"/>
<line x1="307.3" y1="208.5" x2="307.3" y2="352.6" stroke="#7a7a7a" stroke-width="0.9"/>
<line x1="307.3" y1="352.6" x2="515.4" y2="352.6" stroke="#6a6a6a" stroke-width="1"/>
<line x1="305.1" y1="348.70" x2="307.3" y2="348.70" stroke="#888" stroke-width="0.5"/>
<text x="303.80" y="350.05" font-size="3.75" fill="#222" text-anchor="end">0</text>
<line x1="305.1" y1="335.13" x2="307.3" y2="335.13" stroke="#888" stroke-width="0.5"/>
<text x="303.80" y="336.48" font-size="3.75" fill="#222" text-anchor="end">10</text>
<line x1="305.1" y1="321.56" x2="307.3" y2="321.56" stroke="#888" stroke-width="0.5"/>
<text x="303.80" y="322.91" font-size="3.75" fill="#222" text-anchor="end">20</text>
<line x1="305.1" y1="307.99" x2="307.3" y2="307.99" stroke="#888" stroke-width="0.5"/>
<text x="303.80" y="309.34" font-size="3.75" fill="#222" text-anchor="end">30</text>
<line x1="305.1" y1="294.42" x2="307.3" y2="294.42" stroke="#888" stroke-width="0.5"/>
<text x="303.80" y="295.77" font-size="3.75" fill="#222" text-anchor="end">40</text>
<line x1="305.1" y1="280.85" x2="307.3" y2="280.85" stroke="#888" stroke-width="0.5"/>
<text x="303.80" y="282.20" font-size="3.75" fill="#222" text-anchor="end">50</text>
<line x1="305.1" y1="267.28" x2="307.3" y2="267.28" stroke="#888" stroke-width="0.5"/>
<text x="303.80" y="268.63" font-size="3.75" fill="#222" text-anchor="end">60</text>
<line x1="305.1" y1="253.71" x2="307.3" y2="253.71" stroke="#888" stroke-width="0.5"/>
<text x="303.80" y="255.06" font-size="3.75" fill="#222" text-anchor="end">70</text>
<line x1="305.1" y1="240.14" x2="307.3" y2="240.14" stroke="#888" stroke-width="0.5"/>
<text x="303.80" y="241.49" font-size="3.75" fill="#222" text-anchor="end">80</text>
<line x1="305.1" y1="226.57" x2="307.3" y2="226.57" stroke="#888" stroke-width="0.5"/>
<text x="303.80" y="227.92" font-size="3.75" fill="#222" text-anchor="end">90</text>
<line x1="305.1" y1="213.00" x2="307.3" y2="213.00" stroke="#888" stroke-width="0.5"/>
<text x="303.80" y="214.35" font-size="3.75" fill="#222" text-anchor="end">100</text>
<line x1="310.70" y1="352.6" x2="310.70" y2="354.6" stroke="#888" stroke-width="0.5"/>
<text x="310.70" y="359.20" font-size="3.75" fill="#222" text-anchor="middle">0</text>
<line x1="350.76" y1="352.6" x2="350.76" y2="354.6" stroke="#888" stroke-width="0.5"/>
<text x="350.76" y="359.20" font-size="3.75" fill="#222" text-anchor="middle">40</text>
<line x1="390.82" y1="352.6" x2="390.82" y2="354.6" stroke="#888" stroke-width="0.5"/>
<text x="390.82" y="359.20" font-size="3.75" fill="#222" text-anchor="middle">80</text>
<line x1="430.88" y1="352.6" x2="430.88" y2="354.6" stroke="#888" stroke-width="0.5"/>
<text x="430.88" y="359.20" font-size="3.75" fill="#222" text-anchor="middle">120</text>
<line x1="470.94" y1="352.6" x2="470.94" y2="354.6" stroke="#888" stroke-width="0.5"/>
<text x="470.94" y="359.20" font-size="3.75" fill="#222" text-anchor="middle">160</text>
<line x1="511.00" y1="352.6" x2="511.00" y2="354.6" stroke="#888" stroke-width="0.5"/>
<text x="511.00" y="359.20" font-size="3.75" fill="#222" text-anchor="middle">200</text>
<path d="M311.00,213.40 L311.12,213.78 L311.23,214.17 L311.35,214.55 L311.46,214.93 L311.56,215.32 L311.67,215.70 L311.77,216.09 L311.86,216.48 L311.95,216.87 L312.04,217.26 L312.13,217.65 L312.21,218.04 L312.30,218.43 L312.38,218.82 L312.47,219.21 L312.55,219.60 L312.63,219.99 L312.72,220.38 L312.80,220.77 L312.89,221.17 L312.98,221.56 L313.07,221.95 L313.16,222.34 L313.25,222.73 L313.34,223.11 L313.43,223.50 L313.52,223.89 L313.62,224.28 L313.72,224.67 L313.81,225.06 L313.92,225.44 L314.02,225.83 L314.12,226.21 L314.23,226.60 L314.35,226.98 L314.47,227.36 L314.59,227.74 L314.72,228.12 L314.86,228.49 L315.01,228.86 L315.17,229.22 L315.33,229.59 L315.50,229.95 L315.67,230.31 L315.84,230.67 L316.02,231.03 L316.19,231.39 L316.37,231.75 L316.55,232.11" fill="none" stroke="#2c2c2c" stroke-width="1.3" stroke-linejoin="round" stroke-linecap="round"/>
<path d="M315.50,229.95 L315.67,230.31 L315.84,230.67 L316.02,231.03 L316.19,231.39 L316.37,231.75 L316.55,232.11 L316.72,232.46 L316.90,232.82 L317.08,233.18 L317.26,233.54 L317.43,233.90 L317.61,234.26 L317.79,234.62 L317.97,234.97 L318.15,235.33 L318.34,235.68 L318.54,236.02 L318.74,236.37 L318.94,236.71 L319.16,237.04 L319.38,237.37 L319.61,237.70 L319.85,238.02 L320.09,238.34 L320.33,238.65 L320.58,238.96 L320.84,239.27 L321.10,239.57 L321.37,239.87 L321.64,240.16 L321.91,240.45 L322.19,240.74 L322.47,241.02 L322.75,241.30 L323.04,241.59 L323.32,241.87 L323.60,242.15 L323.89,242.43 L324.17,242.72 L324.45,243.00 L324.72,243.29 L324.99,243.58 L325.26,243.88 L325.53,244.18 L325.80,244.48 L326.06,244.78 L326.32,245.08 L326.58,245.38 L326.84,245.69 L327.10,245.99 L327.36,246.30 L327.62,246.60 L327.88,246.91 L328.13,247.21 L328.39,247.52 L328.65,247.82 L328.91,248.13 L329.16,248.44 L329.42,248.75 L329.67,249.06 L329.92,249.37 L330.17,249.68 L330.42,249.99 L330.67,250.30 L330.92,250.61 L331.18,250.92 L331.43,251.23 L331.68,251.54 L331.94,251.84 L332.20,252.14 L332.47,252.43 L332.75,252.72 L333.04,252.99 L333.33,253.26 L333.63,253.51 L333.94,253.76 L334.26,254.00 L334.58,254.24 L334.90,254.47 L335.23,254.70 L335.55,254.93 L335.88,255.16 L336.21,255.38 L336.54,255.61 L336.88,255.83 L337.21,256.05 L337.54,256.28 L337.88,256.50 L338.21,256.72 L338.54,256.94 L338.88,257.16 L339.21,257.37 L339.55,257.59 L339.88,257.81 L340.22,258.03 L340.55,258.26 L340.88,258.48 L341.21,258.70 L341.54,258.93 L341.87,259.15 L342.20,259.38 L342.53,259.61 L342.86,259.84 L343.18,260.07 L343.51,260.30 L343.83,260.54 L344.16,260.77 L344.49,261.00 L344.81,261.23 L345.14,261.46 L345.46,261.70 L345.79,261.93 L346.11,262.16 L346.44,262.39 L346.77,262.62 L347.09,262.86 L347.42,263.09 L347.74,263.32 L348.07,263.55 L348.39,263.79 L348.72,264.02 L349.05,264.25 L349.37,264.48 L349.70,264.71 L350.02,264.95 L350.35,265.18 L350.67,265.41 L351.00,265.64 L351.33,265.87 L351.65,266.11 L351.98,266.34 L352.31,266.57 L352.63,266.80 L352.96,267.03 L353.28,267.26 L353.61,267.49 L353.94,267.72 L354.26,267.95 L354.59,268.19 L354.92,268.42 L355.24,268.65 L355.57,268.88 L355.90,269.11 L356.22,269.34 L356.55,269.57 L356.88,269.80 L357.20,270.03 L357.53,270.26 L357.86,270.49 L358.18,270.73 L358.51,270.96 L358.84,271.19 L359.16,271.42 L359.49,271.65 L359.82,271.88 L360.14,272.11 L360.47,272.34 L360.80,272.57 L361.12,272.80 L361.45,273.03 L361.78,273.26 L362.10,273.49 L362.43,273.73 L362.76,273.96 L363.09,274.18 L363.41,274.41 L363.74,274.64 L364.07,274.87 L364.40,275.10 L364.73,275.33 L365.05,275.56 L365.38,275.79 L365.71,276.02 L366.04,276.24 L366.37,276.47 L366.70,276.70 L367.02,276.93 L367.35,277.16 L367.68,277.39 L368.01,277.62 L368.33,277.85 L368.66,278.08 L368.98,278.31 L369.30,278.55 L369.62,278.79 L369.94,279.03 L370.25,279.28 L370.57,279.53 L370.87,279.79 L371.18,280.04 L371.49,280.30 L371.79,280.56 L372.09,280.82 L372.40,281.08 L372.70,281.34 L373.01,281.60 L373.31,281.85 L373.62,282.11 L373.93,282.35 L374.25,282.59 L374.57,282.83 L374.90,283.05 L375.23,283.27 L375.57,283.49 L375.91,283.69 L376.25,283.89 L376.60,284.09 L376.95,284.29 L377.30,284.49 L377.65,284.68 L378.00,284.87 L378.35,285.07 L378.70,285.26 L379.05,285.45 L379.40,285.65 L379.75,285.84 L380.10,286.03 L380.45,286.23 L380.80,286.42 L381.15,286.61 L381.50,286.81 L381.85,287.00 L382.20,287.19 L382.55,287.39 L382.90,287.58 L383.25,287.77 L383.60,287.96 L383.95,288.16 L384.30,288.35 L384.65,288.54 L385.01,288.72 L385.36,288.91 L385.72,289.09 L386.08,289.26 L386.44,289.44 L386.80,289.60 L387.16,289.77 L387.53,289.93 L387.90,290.08 L388.27,290.24 L388.64,290.39 L389.01,290.55 L389.38,290.70 L389.75,290.85 L390.12,291.00 L390.49,291.15 L390.86,291.30 L391.23,291.46 L391.60,291.61 L391.97,291.76 L392.34,291.91 L392.71,292.07 L393.07,292.22 L393.44,292.38 L393.81,292.54 L394.17,292.70 L394.53,292.87 L394.89,293.04 L395.25,293.22 L395.60,293.41 L395.95,293.60 L396.30,293.79 L396.65,293.99 L397.00,294.19 L397.34,294.39 L397.69,294.59 L398.03,294.79 L398.38,295.00 L398.72,295.20 L399.06,295.40 L399.41,295.61 L399.75,295.81 L400.10,296.01 L400.44,296.22 L400.79,296.42 L401.13,296.63 L401.48,296.83 L401.82,297.03 L402.16,297.24 L402.51,297.44 L402.85,297.64 L403.20,297.85 L403.54,298.05 L403.89,298.25 L404.23,298.45 L404.58,298.66 L404.92,298.85 L405.27,299.05 L405.62,299.24 L405.97,299.43 L406.33,299.61 L406.69,299.79 L407.05,299.96 L407.41,300.12 L407.78,300.28 L408.14,300.44 L408.51,300.59 L408.88,300.74 L409.25,300.89 L409.63,301.04 L410.00,301.19 L410.37,301.33 L410.74,301.48 L411.11,301.63 L411.48,301.78 L411.86,301.92 L412.23,302.07 L412.60,302.22 L412.97,302.37 L413.34,302.51 L413.72,302.66 L414.09,302.81 L414.46,302.96 L414.83,303.10 L415.20,303.25 L415.57,303.40 L415.95,303.55 L416.32,303.70 L416.69,303.85 L417.06,304.00 L417.42,304.16 L417.79,304.32 L418.15,304.48 L418.52,304.65 L418.88,304.82 L419.24,304.99 L419.60,305.17 L419.96,305.34 L420.32,305.52" fill="none" stroke="#2c2c2c" stroke-width="1.8" stroke-linejoin="round" stroke-linecap="round"/>
<path d="M419.60,305.17 L419.96,305.34 L420.32,305.52 L420.67,305.70 L421.03,305.88 L421.39,306.06 L421.75,306.24 L422.10,306.42 L422.46,306.60 L422.82,306.78 L423.17,306.96 L423.53,307.14 L423.89,307.32 L424.25,307.50 L424.60,307.68 L424.96,307.86 L425.32,308.04 L425.67,308.22 L426.03,308.40 L426.39,308.58 L426.75,308.76 L427.10,308.94 L427.46,309.12 L427.82,309.30 L428.18,309.47 L428.54,309.65 L428.90,309.82 L429.26,309.99 L429.63,310.15 L429.99,310.32 L430.36,310.47 L430.73,310.63 L431.09,310.78 L431.46,310.93 L431.84,311.08 L432.21,311.23 L432.58,311.38 L432.95,311.53 L433.32,311.68 L433.69,311.82 L434.07,311.97 L434.44,312.12 L434.81,312.27 L435.18,312.41 L435.55,312.56 L435.92,312.71 L436.30,312.86 L436.67,313.00 L437.04,313.15 L437.41,313.30 L437.78,313.45 L438.16,313.59 L438.53,313.74 L438.90,313.89 L439.27,314.04 L439.64,314.19 L440.01,314.34 L440.38,314.49 L440.75,314.65 L441.12,314.80 L441.48,314.96 L441.85,315.12 L442.22,315.29 L442.58,315.45 L442.94,315.62 L443.31,315.78 L443.67,315.95 L444.03,316.12 L444.40,316.29 L444.76,316.46 L445.12,316.63 L445.48,316.80 L445.85,316.96 L446.21,317.13 L446.57,317.30 L446.93,317.47 L447.30,317.64 L447.66,317.81 L448.02,317.98 L448.38,318.15 L448.75,318.32 L449.11,318.48 L449.47,318.65 L449.83,318.82 L450.20,318.99 L450.56,319.16 L450.92,319.32 L451.29,319.49 L451.65,319.66 L452.01,319.83 L452.38,319.99 L452.74,320.15 L453.11,320.32 L453.47,320.48 L453.84,320.63 L454.21,320.78 L454.58,320.92 L454.96,321.05 L455.34,321.17 L455.72,321.29 L456.10,321.39 L456.49,321.49 L456.88,321.59 L457.26,321.68 L457.65,321.76 L458.05,321.85 L458.44,321.93 L458.83,322.02 L459.22,322.10 L459.61,322.18 L460.00,322.27 L460.39,322.35 L460.78,322.43 L461.17,322.52 L461.57,322.60 L461.96,322.69 L462.35,322.77" fill="none" stroke="#2c2c2c" stroke-width="1.5" stroke-linejoin="round" stroke-linecap="round"/>
<path d="M461.57,322.60 L461.96,322.69 L462.35,322.77 L462.74,322.85 L463.13,322.94 L463.52,323.02 L463.91,323.11 L464.30,323.19 L464.69,323.27 L465.08,323.36 L465.48,323.45 L465.87,323.53 L466.26,323.62 L466.65,323.70 L467.04,323.79 L467.43,323.87 L467.82,323.96 L468.21,324.04 L468.60,324.13 L468.99,324.21 L469.38,324.30 L469.77,324.39 L470.16,324.47 L470.55,324.56 L470.94,324.65 L471.33,324.74 L471.72,324.83 L472.11,324.93 L472.49,325.03 L472.87,325.14 L473.25,325.26 L473.63,325.39 L474.00,325.53 L474.37,325.67 L474.74,325.83 L475.10,325.99 L475.47,326.16 L475.83,326.33 L476.18,326.51 L476.53,326.69 L476.88,326.88 L477.23,327.08 L477.56,327.29 L477.90,327.51 L478.22,327.73 L478.55,327.97 L478.86,328.21 L479.18,328.45 L479.49,328.70 L479.80,328.96 L480.10,329.21 L480.41,329.47 L480.71,329.73 L481.02,329.99 L481.31,330.25 L481.61,330.52 L481.90,330.79 L482.20,331.07 L482.48,331.34 L482.77,331.62 L483.05,331.91 L483.33,332.19 L483.61,332.48 L483.89,332.76 L484.17,333.05 L484.45,333.34 L484.60,333.50" fill="none" stroke="#2c2c2c" stroke-width="1.15" stroke-linejoin="round" stroke-linecap="round"/>
<path d="M484.6,333.5 L486.5,335.6 L495.7,335.6" fill="none" stroke="#555" stroke-width="0.6" stroke-dasharray="1 0.8"/>
<path d="M486.7,335.6 h1.6 M487.5,334.8 v1.6" stroke="#444" stroke-width="0.45"/>
<path d="M489.7,335.6 h1.6 M490.5,334.8 v1.6" stroke="#444" stroke-width="0.45"/>
<path d="M492.7,335.6 h1.6 M493.5,334.8 v1.6" stroke="#444" stroke-width="0.45"/>
<path d="M494.7,335.6 h1.6 M495.5,334.8 v1.6" stroke="#444" stroke-width="0.45"/>
<path d="M311.00,213.40 L311.25,213.71 L311.50,214.03 L311.75,214.34 L311.99,214.65 L312.24,214.97 L312.49,215.28 L312.74,215.59 L312.99,215.91 L313.23,216.22 L313.48,216.54 L313.72,216.86 L313.97,217.17 L314.21,217.49 L314.46,217.80 L314.70,218.12 L314.95,218.43 L315.21,218.74 L315.46,219.04 L315.73,219.34 L316.00,219.63 L316.27,219.92 L316.55,220.20 L316.84,220.48 L317.13,220.76 L317.42,221.03 L317.71,221.30 L318.01,221.57 L318.30,221.84 L318.60,222.11 L318.89,222.38 L319.19,222.65 L319.49,222.91 L319.79,223.18 L320.08,223.45 L320.39,223.71 L320.69,223.97 L321.00,224.22 L321.31,224.47 L321.62,224.72 L321.94,224.96 L322.26,225.20 L322.58,225.44 L322.91,225.67 L323.23,225.90 L323.56,226.13 L323.89,226.36 L324.21,226.59 L324.54,226.82 L324.88,227.04 L325.21,227.26 L325.54,227.48 L325.88,227.70 L326.22,227.91 L326.55,228.13 L326.89,228.34 L327.23,228.55 L327.57,228.76 L327.91,228.97 L328.25,229.18 L328.59,229.40 L328.93,229.61 L329.26,229.83 L329.60,230.04 L329.94,230.26 L330.27,230.48 L330.61,230.69 L330.94,230.91 L331.28,231.13 L331.62,231.35 L331.95,231.56 L332.29,231.77 L332.63,231.98 L332.97,232.19 L333.32,232.40 L333.66,232.60 L334.01,232.80 L334.35,233.00 L334.70,233.19 L335.05,233.39 L335.40,233.58 L335.75,233.77 L336.11,233.96 L336.46,234.14 L336.82,234.33 L337.17,234.51 L337.53,234.69 L337.89,234.87 L338.24,235.05 L338.60,235.23 L338.96,235.41 L339.32,235.59 L339.67,235.77 L340.02,235.96 L340.38,236.14 L340.73,236.34 L341.08,236.53 L341.42,236.73 L341.77,236.93 L342.11,237.14 L342.45,237.34 L342.80,237.55 L343.14,237.75 L343.49,237.95 L343.83,238.15 L344.18,238.34 L344.53,238.54 L344.89,238.72 L345.24,238.90 L345.60,239.08 L345.96,239.25 L346.32,239.42 L346.68,239.59 L347.05,239.76 L347.41,239.93 L347.77,240.10 L348.14,240.26 L348.50,240.43 L348.86,240.60 L349.23,240.76 L349.59,240.93 L349.95,241.10 L350.31,241.28 L350.67,241.45 L351.02,241.63 L351.38,241.82 L351.73,242.01 L352.08,242.20 L352.42,242.40 L352.77,242.61 L353.11,242.81 L353.45,243.02 L353.79,243.23 L354.13,243.44 L354.47,243.65 L354.81,243.86 L355.15,244.07 L355.49,244.28 L355.83,244.49 L356.17,244.70 L356.51,244.91 L356.85,245.12 L357.19,245.33 L357.53,245.55 L357.87,245.76 L358.21,245.97 L358.55,246.18 L358.89,246.39 L359.23,246.60 L359.57,246.81 L359.91,247.02 L360.25,247.23 L360.59,247.44 L360.93,247.65 L361.27,247.87 L361.61,248.08 L361.95,248.29 L362.29,248.50 L362.63,248.71 L362.97,248.92 L363.31,249.13 L363.66,249.33 L364.00,249.54 L364.34,249.75 L364.68,249.96 L365.02,250.17 L365.36,250.38 L365.70,250.59 L366.05,250.79 L366.39,251.00 L366.73,251.21 L367.07,251.42 L367.41,251.63 L367.75,251.83 L368.10,252.04 L368.44,252.25 L368.78,252.46 L369.12,252.66 L369.46,252.87 L369.80,253.08 L370.15,253.29 L370.49,253.50 L370.83,253.70 L371.17,253.91 L371.51,254.12 L371.85,254.33 L372.20,254.54 L372.54,254.74 L372.88,254.95 L373.22,255.16 L373.56,255.37 L373.91,255.57 L374.25,255.78 L374.59,255.99 L374.93,256.19 L375.28,256.40 L375.62,256.60 L375.96,256.81 L376.31,257.01 L376.65,257.22 L376.99,257.42 L377.34,257.63 L377.68,257.83 L378.03,258.04 L378.37,258.24 L378.71,258.45 L379.06,258.65 L379.40,258.86 L379.74,259.06 L380.09,259.26 L380.43,259.47 L380.78,259.67 L381.12,259.88 L381.46,260.08 L381.81,260.29 L382.15,260.49 L382.49,260.70 L382.84,260.90 L383.18,261.10 L383.53,261.31 L383.87,261.51 L384.22,261.71 L384.56,261.91 L384.91,262.11 L385.26,262.31 L385.61,262.50 L385.96,262.69 L386.32,262.87 L386.67,263.04 L387.04,263.21 L387.40,263.38 L387.76,263.54 L388.13,263.70 L388.50,263.86 L388.86,264.02 L389.23,264.17 L389.60,264.33 L389.97,264.48 L390.34,264.64 L390.71,264.79 L391.08,264.95 L391.44,265.10 L391.81,265.26 L392.18,265.41 L392.55,265.57 L392.92,265.72 L393.29,265.88 L393.66,266.03 L394.03,266.19 L394.39,266.34 L394.76,266.50 L395.13,266.65 L395.50,266.81 L395.87,266.96 L396.24,267.12 L396.61,267.27 L396.98,267.43 L397.35,267.58 L397.72,267.73 L398.08,267.89 L398.45,268.04 L398.82,268.20 L399.19,268.35 L399.56,268.50 L399.93,268.66 L400.30,268.81 L400.67,268.97 L401.04,269.12 L401.41,269.27 L401.78,269.43 L402.15,269.58 L402.51,269.74 L402.88,269.89 L403.25,270.05 L403.62,270.20 L403.99,270.36 L404.36,270.51 L404.72,270.67 L405.09,270.83 L405.45,271.00 L405.81,271.17 L406.17,271.34 L406.53,271.52 L406.88,271.71 L407.23,271.91 L407.57,272.11 L407.92,272.31 L408.26,272.52 L408.60,272.73 L408.94,272.94 L409.28,273.15 L409.62,273.36 L409.95,273.57 L410.29,273.79 L410.63,274.00 L410.97,274.21 L411.31,274.43 L411.65,274.64 L411.99,274.85 L412.32,275.06 L412.66,275.28 L413.00,275.49 L413.34,275.70 L413.68,275.92 L414.02,276.13 L414.36,276.34 L414.69,276.56 L415.03,276.77 L415.37,276.98 L415.71,277.19 L416.05,277.40 L416.39,277.61 L416.73,277.82 L417.07,278.03 L417.42,278.23 L417.77,278.42 L418.12,278.61 L418.47,278.80 L418.83,278.98 L419.19,279.15 L419.55,279.32 L419.91,279.49 L420.27,279.66 L420.64,279.82 L421.00,279.99 L421.37,280.15 L421.73,280.31 L422.10,280.47 L422.47,280.64 L422.83,280.80 L423.20,280.96 L423.56,281.12 L423.93,281.28 L424.29,281.45 L424.66,281.61 L425.02,281.77 L425.39,281.93 L425.76,282.10 L426.12,282.26 L426.49,282.42 L426.85,282.58 L427.22,282.74 L427.59,282.90 L427.95,283.06 L428.32,283.22 L428.69,283.38 L429.06,283.53 L429.43,283.68 L429.80,283.83 L430.17,283.98 L430.54,284.12 L430.92,284.26 L431.29,284.40 L431.67,284.54 L432.04,284.67 L432.42,284.81 L432.80,284.94 L433.17,285.08 L433.55,285.21 L433.93,285.35 L434.30,285.48 L434.68,285.62 L435.05,285.76 L435.43,285.89 L435.80,286.03 L436.18,286.18 L436.55,286.32 L436.92,286.47 L437.28,286.63 L437.64,286.80 L438.00,286.97 L438.36,287.15 L438.71,287.34 L439.06,287.53 L439.41,287.73 L439.75,287.93 L440.10,288.13 L440.44,288.33 L440.79,288.54 L441.13,288.74 L441.48,288.94 L441.82,289.15 L442.16,289.35 L442.51,289.55 L442.86,289.75 L443.20,289.95 L443.55,290.14 L443.90,290.33 L444.26,290.51 L444.61,290.69 L444.97,290.86 L445.34,291.02 L445.71,291.18 L446.07,291.33 L446.45,291.48 L446.82,291.63 L447.19,291.77 L447.56,291.91 L447.94,292.05 L448.31,292.19 L448.69,292.33 L449.06,292.47 L449.44,292.61 L449.81,292.75 L450.19,292.89 L450.56,293.04 L450.93,293.18 L451.31,293.32 L451.68,293.46 L452.06,293.60 L452.43,293.74 L452.81,293.88 L453.18,294.01 L453.56,294.15 L453.93,294.29 L454.31,294.42 L454.69,294.56 L455.07,294.69 L455.44,294.82 L455.82,294.94 L456.20,295.07 L456.58,295.19 L456.96,295.31 L457.35,295.44 L457.73,295.56 L458.11,295.68 L458.49,295.80 L458.87,295.92 L459.25,296.04 L459.63,296.16 L460.02,296.28 L460.40,296.40 L460.78,296.52 L461.16,296.64 L461.54,296.76 L461.92,296.88 L462.30,297.01 L462.68,297.13 L463.06,297.26 L463.44,297.39 L463.82,297.52 L464.19,297.65 L464.57,297.79 L464.94,297.93 L465.32,298.07 L465.69,298.22 L466.06,298.36 L466.43,298.51 L466.81,298.66 L467.18,298.81 L467.55,298.95 L467.92,299.10 L468.29,299.25 L468.66,299.40 L469.04,299.55 L469.41,299.69 L469.78,299.84 L470.15,299.99 L470.52,300.14 L470.89,300.29 L471.26,300.44 L471.64,300.58 L472.01,300.73 L472.38,300.88 L472.75,301.03 L473.12,301.18 L473.49,301.32 L473.87,301.47 L474.24,301.62 L474.61,301.77 L474.98,301.91 L475.35,302.06 L475.73,302.21 L476.10,302.35 L476.47,302.49 L476.85,302.63 L477.22,302.77 L477.60,302.90 L477.98,303.03 L478.36,303.16 L478.74,303.28 L479.12,303.40 L479.50,303.51 L479.88,303.63 L480.27,303.74 L480.65,303.85 L481.04,303.96 L481.42,304.07 L481.80,304.18 L482.19,304.30 L482.57,304.41 L482.96,304.52 L483.34,304.63 L483.73,304.74 L484.11,304.85 L484.49,304.96 L484.88,305.07 L485.26,305.18 L485.65,305.30 L486.03,305.41 L486.42,305.52 L486.80,305.63 L487.18,305.74 L487.57,305.86 L487.95,305.97 L488.33,306.09 L488.72,306.20 L489.10,306.32 L489.48,306.43 L489.86,306.55 L490.25,306.67 L490.63,306.78 L491.01,306.90 L491.40,307.02 L491.78,307.13 L492.16,307.25 L492.55,307.36 L492.93,307.47 L493.31,307.58 L493.70,307.69 L494.08,307.79 L494.47,307.89 L494.86,307.99 L495.25,308.09 L495.63,308.19 L495.70,308.20" fill="none" stroke="#2410d2" stroke-width="1.8" stroke-linejoin="round" stroke-linecap="round"/>
<path d="M495.7,308.2 L495.7,310.6 L501.0,310.6 L501.0,316.2 L503.3,316.2 L503.3,326.6 L509.6,326.6" fill="none" stroke="#3a2ad8" stroke-width="1.2"/>
<line x1="383.5" y1="216.4" x2="398.5" y2="216.4" stroke="#333" stroke-width="0.7" stroke-dasharray="1.1 1.1"/>
<line x1="383.5" y1="220.5" x2="398.5" y2="220.5" stroke="#5a4ae0" stroke-width="0.9"/>
<text x="403.10" y="213.80" font-size="3.45" fill="#151515" font-weight="bold" textLength="26.70" lengthAdjust="spacingAndGlyphs">Charlson_Score</text>
<text x="418.70" y="217.60" font-size="3.3465000000000003" fill="#2a2a2a" text-anchor="end">&gt;=1</text>
<text x="418.70" y="221.60" font-size="3.3465000000000003" fill="#2a2a2a" text-anchor="end" textLength="7.50" lengthAdjust="spacingAndGlyphs">equal 0</text>
<text x="403.10" y="225.90" font-size="3.3465000000000003" fill="#2a2a2a" textLength="37.50" lengthAdjust="spacingAndGlyphs">Logrank P-value &lt;.0001</text>
<text x="432.20" y="213.80" font-size="3.45" fill="#151515" font-weight="bold" textLength="20.50" lengthAdjust="spacingAndGlyphs">Events/Total</text>
<text x="434.20" y="217.60" font-size="3.3465000000000003" fill="#2a2a2a" textLength="16.80" lengthAdjust="spacingAndGlyphs">1033/2946</text>
<text x="433.70" y="221.60" font-size="3.3465000000000003" fill="#2a2a2a" textLength="18.40" lengthAdjust="spacingAndGlyphs">4182/11349</text>
<text x="456.70" y="213.80" font-size="3.45" fill="#151515" font-weight="bold" textLength="26.00" lengthAdjust="spacingAndGlyphs">Median (95% CI)</text>
<text x="457.90" y="217.60" font-size="3.3465000000000003" fill="#2a2a2a" textLength="24.80" lengthAdjust="spacingAndGlyphs">61.3 (57.3-64.9)</text>
<text x="455.20" y="221.60" font-size="3.3465000000000003" fill="#2a2a2a" textLength="28.10" lengthAdjust="spacingAndGlyphs">111.3 (107.4-115.0)</text>
<text x="490.80" y="213.80" font-size="3.45" fill="#151515" font-weight="bold" textLength="20.30" lengthAdjust="spacingAndGlyphs">HR (95% CI)</text>
<text x="488.50" y="217.60" font-size="3.3465000000000003" fill="#2a2a2a" textLength="23.50" lengthAdjust="spacingAndGlyphs">1.91 (1.80-2.02)</text>
<text x="492.60" y="221.60" font-size="3.3465000000000003" fill="#2a2a2a" textLength="16.20" lengthAdjust="spacingAndGlyphs">Reference</text>
<text x="497.20" y="225.90" font-size="3.3465000000000003" fill="#2a2a2a" textLength="15.70" lengthAdjust="spacingAndGlyphs">+ Censor</text>
<text transform="translate(297.4,280.2) rotate(-90)" font-size="4.6" font-weight="bold" text-anchor="middle" fill="#111" textLength="55.6" lengthAdjust="spacingAndGlyphs">Percent Without Event</text>
<text x="409.80" y="366.30" font-size="4.6" fill="#111" font-weight="bold" text-anchor="middle" font-style="italic" textLength="15.50" lengthAdjust="spacingAndGlyphs">month</text>
<text x="395.40" y="371.00" font-size="4.1" fill="#2a2a2a" textLength="31.30" lengthAdjust="spacingAndGlyphs">Patients-at-Risk</text>
<text x="296.50" y="375.10" font-size="3.45" fill="#2a2a2a" text-anchor="end">&gt;=1</text>
<text x="296.50" y="379.50" font-size="3.45" fill="#4a3acc" text-anchor="end">equal 0</text>
<text x="310.70" y="375.10" font-size="3.675" fill="#2a2a2a" text-anchor="middle">2946</text>
<text x="310.70" y="379.50" font-size="3.675" fill="#4a3acc" text-anchor="middle">11349</text>
<text x="350.76" y="375.10" font-size="3.675" fill="#2a2a2a" text-anchor="middle">1331</text>
<text x="350.76" y="379.50" font-size="3.675" fill="#4a3acc" text-anchor="middle">6440</text>
<text x="390.82" y="375.10" font-size="3.675" fill="#2a2a2a" text-anchor="middle">481</text>
<text x="390.82" y="379.50" font-size="3.675" fill="#4a3acc" text-anchor="middle">3571</text>
<text x="430.88" y="375.10" font-size="3.675" fill="#2a2a2a" text-anchor="middle">154</text>
<text x="430.88" y="379.50" font-size="3.675" fill="#4a3acc" text-anchor="middle">1166</text>
<text x="470.94" y="375.10" font-size="3.675" fill="#2a2a2a" text-anchor="middle">18</text>
<text x="470.94" y="379.50" font-size="3.675" fill="#4a3acc" text-anchor="middle">270</text>
<text x="511.00" y="375.10" font-size="3.675" fill="#2a2a2a" text-anchor="middle">0</text>
<text x="511.00" y="379.50" font-size="3.675" fill="#4a3acc" text-anchor="middle">0</text>
</svg>
</body></html>
